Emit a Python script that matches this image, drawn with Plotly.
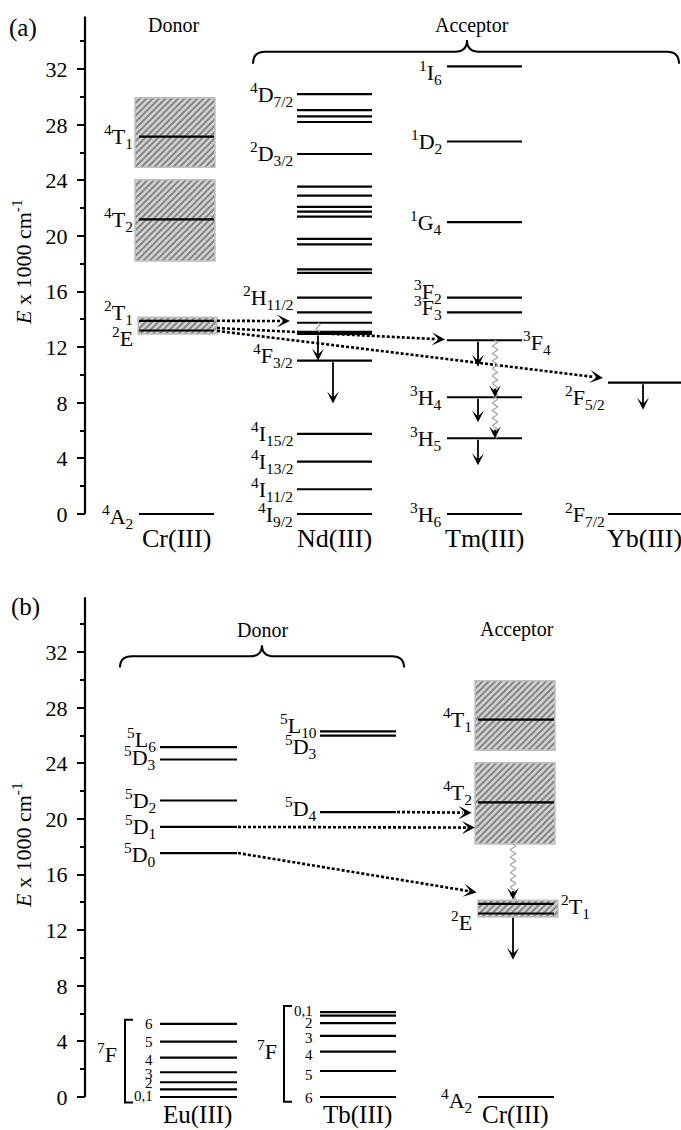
import math
import re
import plotly.graph_objects as go

FONT = "Liberation Serif"

# ---------------- energies, in units of 1000 cm^-1 ----------------
E_TICKS = [0, 4, 8, 12, 16, 20, 24, 28, 32]
E_MINOR = [2, 6, 10, 14, 18, 22, 26, 30, 34]

# Cr(III) sharp levels and broad (hatched) bands
CR_TERMS = ["4A2", "2E", "2T1", "4T2", "4T1"]
CR_E = [0.0, 13.2, 13.9, 21.2, 27.15]
CR_BANDS = ["2E/2T1", "4T2", "4T1"]
CR_BAND_LO = [12.95, 18.2, 24.95]
CR_BAND_HI = [14.15, 24.05, 29.95]

# Nd(III)
ND_E = [0.0, 1.78, 3.77, 5.76, 11.03, 12.95, 13.1, 13.76, 14.5, 15.56,
        17.35, 17.6, 19.4, 19.8, 21.4, 21.75, 22.1, 22.9, 23.55, 25.9,
        28.2, 28.6, 29.06, 30.2]
ND_TERMS = ["4I9/2", "4I11/2", "4I13/2", "4I15/2", "4F3/2", "2H11/2", "2D3/2", "4D7/2"]
ND_TERM_E = [0.0, 1.78, 3.77, 5.76, 11.03, 15.56, 25.9, 30.2]

# Tm(III)
TM_TERMS = ["3H6", "3H5", "3H4", "3F4", "3F3", "3F2", "1G4", "1D2", "1I6"]
TM_E = [0.0, 5.45, 8.4, 12.5, 14.5, 15.56, 21.0, 26.8, 32.2]

# Yb(III)
YB_TERMS = ["2F7/2", "2F5/2"]
YB_E = [0.0, 9.45]

# panel (a): Cr(III) -> Nd / Tm / Yb transfer (start energy, end energy)
A_TRANSFER_TARGET = ["Nd", "Tm", "Yb"]
A_TRANSFER_FROM = [13.9, 13.38, 13.17]
A_TRANSFER_TO = [13.88, 12.55, 9.78]

# radiative decays (start, end)
ND_DECAY_FROM = [12.95, 11.03]
ND_DECAY_TO = [11.03, 7.95]
TM_DECAY_FROM = [12.5, 8.4, 5.45]
TM_DECAY_TO = [10.6, 6.6, 3.5]
YB_DECAY_FROM = [9.45]
YB_DECAY_TO = [7.5]
# non-radiative relaxation (start, end)
TM_NONRAD_FROM = [12.5, 8.4]
TM_NONRAD_TO = [8.4, 5.45]
ND_NONRAD_FROM = [13.76]
ND_NONRAD_TO = [13.1]

# Eu(III)
EU_TERMS = ["5D0", "5D1", "5D2", "5D3", "5L6"]
EU_E = [17.55, 19.43, 21.33, 24.28, 25.17]
EU_7F_J = ["0", "1", "2", "3", "4", "5", "6"]
EU_7F_E = [0.0, 0.55, 1.06, 1.78, 2.83, 3.98, 5.26]

# Tb(III)
TB_TERMS = ["5D4", "5D3", "5L10"]
TB_E = [20.5, 26.0, 26.3]
TB_7F_J = ["6", "5", "4", "3", "2", "1", "0"]
TB_7F_E = [0.0, 1.87, 3.26, 4.4, 5.31, 5.86, 6.1]

# panel (b): Tb 5D4, Eu 5D1, Eu 5D0 -> Cr(III)
B_TRANSFER_DONOR = ["Tb", "Eu", "Eu"]
B_TRANSFER_FROM = [20.5, 19.43, 17.55]
B_TRANSFER_TO = [20.45, 19.38, 14.72]
CR_DECAY_FROM = [13.0]
CR_DECAY_TO = [9.87]
CR_NONRAD_FROM = [18.2]
CR_NONRAD_TO = [14.2]

# ---------------- page geometry ----------------
W, H = 681, 1130
AXIS_X = 85            # x of the energy axis
S = 13.9               # pixels per 1000 cm^-1
PANEL = {
    "a": dict(zero=514, lo=-3.3, hi=36.3, top=35.8),
    "b": dict(zero=1097, lo=-2.3, hi=36.4, top=35.95),
}
AX = {"a": ("x", "y"), "b": ("x2", "y2")}

# level columns (left, right) on the horizontal layout scale
COL_A = {"Cr": (139, 214), "Nd": (297, 372), "Tm": (447, 522), "Yb": (608, 681)}
COL_B = {"Eu": (160, 237), "Tb": (320, 396), "Cr": (478, 554)}
BOX_A = (135, 215)
BOX_B = (475, 555)
THIN_BOX_A = (138, 217)
THIN_BOX_B = (478, 558)

LABEL_SIZE = 22

fig = go.Figure()


def term_html(t):
    mult, letter, sub = re.match(r"(\d)([A-Z])(.*)", t).groups()
    s = f"<sup>{mult}</sup>{letter}"
    if sub:
        s += f"<sub>{sub}</sub>"
    return s


def levels(p, x0, x1, energies, width=2.2):
    xs, ys = [], []
    for e in energies:
        xs += [x0, x1, None]
        ys += [e, e, None]
    xa, ya = AX[p]
    fig.add_trace(go.Scatter(x=xs, y=ys, mode="lines", xaxis=xa, yaxis=ya,
                             line=dict(color="black", width=width),
                             hoverinfo="skip", showlegend=False))


def band(p, x0, x1, lo, hi):
    xa, ya = AX[p]
    fig.add_trace(go.Bar(
        x=[(x0 + x1) / 2], y=[hi - lo], base=[lo], width=[x1 - x0],
        xaxis=xa, yaxis=ya, hoverinfo="skip", showlegend=False,
        marker=dict(color="#d6d6d6", line=dict(color="#c0c0c0", width=1.5),
                    pattern=dict(shape="/", fgcolor="#262626", bgcolor="#d6d6d6",
                                 size=4.5, solidity=0.45))))


def label(p, x, e, text, anchor="right", size=LABEL_SIZE, dy=0):
    xa, ya = AX[p]
    fig.add_annotation(x=x, y=e, xref=xa, yref=ya, text=text, showarrow=False,
                       xanchor=anchor, yanchor="middle", yshift=dy,
                       font=dict(family=FONT, size=size, color="black"))


def head(p, x0, e0, x1, e1, width=1.8):
    xa, ya = AX[p]
    fig.add_annotation(x=x1, y=e1, ax=x0, ay=e0, xref=xa, yref=ya,
                       axref=xa, ayref=ya, text="", showarrow=True,
                       arrowhead=3, arrowsize=1.1, arrowwidth=width,
                       arrowcolor="black", standoff=0)


def dotted_arrow(p, x0, e0, x1, e1):
    dx, dy = x1 - x0, (e1 - e0) * S
    length = math.hypot(dx, dy)
    back = 9
    xb = x1 - dx / length * back
    eb = e1 - (e1 - e0) / length * back
    xa, ya = AX[p]
    fig.add_trace(go.Scatter(x=[x0, xb], y=[e0, eb], mode="lines", xaxis=xa, yaxis=ya,
                             line=dict(color="black", width=2.6, dash="3px,2px"),
                             hoverinfo="skip", showlegend=False))
    head(p, xb, eb, x1, e1, width=2)


def wavy(p, x, e0, e1, with_head=True, amp=2.6, wl=7.5):
    n = 160
    span = (e0 - e1) * S
    xs, ys = [], []
    for i in range(n + 1):
        t = i / n
        xs.append(x + amp * math.sin(2 * math.pi * t * span / wl))
        ys.append(e0 - t * (e0 - e1))
    xa, ya = AX[p]
    fig.add_trace(go.Scatter(x=xs, y=ys, mode="lines", xaxis=xa, yaxis=ya,
                             line=dict(color="#a8a8a8", width=1.3),
                             hoverinfo="skip", showlegend=False))
    if with_head:
        head(p, x, e1 + 10 / S, x, e1)


def brace(p, x0, x1, xm, y_end, y_bar, y_tip, r=12):
    xa, ya = AX[p]
    path = (f"M{x0},{y_end} Q{x0},{y_bar} {x0 + r},{y_bar} L{xm - r},{y_bar} "
            f"Q{xm},{y_bar} {xm},{y_tip} Q{xm},{y_bar} {xm + r},{y_bar} "
            f"L{x1 - r},{y_bar} Q{x1},{y_bar} {x1},{y_end}")
    fig.add_shape(type="path", path=path, xref=xa, yref=ya,
                  line=dict(color="black", width=2))


def bracket(p, x, top, bottom, tick=8):
    xa, ya = AX[p]
    path = f"M{x + tick},{top} L{x},{top} L{x},{bottom} L{x + tick},{bottom}"
    fig.add_shape(type="path", path=path, xref=xa, yref=ya,
                  line=dict(color="black", width=2))


crb = {n: (lo, hi) for n, lo, hi in zip(CR_BANDS, CR_BAND_LO, CR_BAND_HI)}

# ====================== panel (a) ======================
for name in ["4T1", "4T2"]:
    band("a", *BOX_A, *crb[name])
band("a", *THIN_BOX_A, *crb["2E/2T1"])
levels("a", *COL_A["Cr"], CR_E)
levels("a", *COL_A["Nd"], ND_E)
levels("a", *COL_A["Tm"], TM_E)
levels("a", *COL_A["Yb"], YB_E)

cr_shift = {"4A2": -2, "2E": -6, "2T1": 8, "4T2": 0, "4T1": 0}
for t, e in zip(CR_TERMS, CR_E):
    label("a", COL_A["Cr"][0] - 4, e, term_html(t), dy=cr_shift[t])

nd_shift = {"4F3/2": 5}
for t, e in zip(ND_TERMS, ND_TERM_E):
    label("a", COL_A["Nd"][0] - 2, e, term_html(t), dy=nd_shift.get(t, 0))

tm_shift = {"1I6": -6, "3F2": 6, "3F3": 5}
for t, e in zip(TM_TERMS, TM_E):
    if t == "3F4":
        label("a", COL_A["Tm"][1] - 1, e, term_html(t), anchor="left", dy=-2)
    else:
        label("a", COL_A["Tm"][0] - 3, e, term_html(t), dy=tm_shift.get(t, 0))

yb_shift = {"2F5/2": -15}
for t, e in zip(YB_TERMS, YB_E):
    label("a", COL_A["Yb"][0] - 1, e, term_html(t), dy=yb_shift.get(t, 0))

# energy transfer from the Cr(III) 2E/2T1 levels
target_x = {"Nd": 290, "Tm": 445, "Yb": 603}
for tgt, e0, e1 in zip(A_TRANSFER_TARGET, A_TRANSFER_FROM, A_TRANSFER_TO):
    dotted_arrow("a", THIN_BOX_A[1], e0, target_x[tgt], e1)

# emission / relaxation
for x, e0, e1 in zip([318, 333], ND_DECAY_FROM, ND_DECAY_TO):
    head("a", x, e0, x, e1)
for e0, e1 in zip(TM_DECAY_FROM, TM_DECAY_TO):
    head("a", 478, e0, 478, e1)
for e0, e1 in zip(YB_DECAY_FROM, YB_DECAY_TO):
    head("a", 643, e0, 643, e1)
for e0, e1 in zip(TM_NONRAD_FROM, TM_NONRAD_TO):
    wavy("a", 495, e0, e1)
for e0, e1 in zip(ND_NONRAD_FROM, ND_NONRAD_TO):
    wavy("a", 318, e0, e1, with_head=False, amp=2)

for ion, (x0, x1) in [("Cr", COL_A["Cr"]), ("Nd", COL_A["Nd"]), ("Tm", COL_A["Tm"]), ("Yb", COL_A["Yb"])]:
    label("a", (x0 + x1) / 2, -1.75, f"{ion}(III)", anchor="center", size=26)

label("a", 173, 35.15, "Donor", anchor="center", size=20)
label("a", 472, 35.15, "Acceptor", anchor="center", size=20)
brace("a", 253, 679, 467, 32.4, 33.26, 34.1)

# ====================== panel (b) ======================
for name in ["4T1", "4T2"]:
    band("b", *BOX_B, *crb[name])
band("b", *THIN_BOX_B, *crb["2E/2T1"])
levels("b", *COL_B["Eu"], EU_E + EU_7F_E)
levels("b", *COL_B["Tb"], TB_E + TB_7F_E)
levels("b", *COL_B["Cr"], CR_E)

eu_shift = {"5L6": 8, "5D3": 2, "5D0": -1}
for t, e in zip(EU_TERMS, EU_E):
    label("b", COL_B["Eu"][0] - 2, e, term_html(t), dy=eu_shift.get(t, 0))
tb_shift = {"5L10": 6, "5D3": -11, "5D4": 4}
for t, e in zip(TB_TERMS, TB_E):
    label("b", COL_B["Tb"][0] - 1, e, term_html(t), dy=tb_shift.get(t, 0))

crb_shift = {"4A2": -3, "2E": -7, "4T2": 10, "4T1": 0}
for t, e in zip(CR_TERMS, CR_E):
    if t == "2T1":
        label("b", THIN_BOX_B[1] + 1, e, term_html(t), anchor="left", dy=-3)
    else:
        label("b", COL_B["Cr"][0] - 4, e, term_html(t), dy=crb_shift[t])

# 7F manifolds: bracket, term symbol and J values
eu_j = dict(zip(EU_7F_J, EU_7F_E))
tb_j = dict(zip(TB_7F_J, TB_7F_E))
bracket("b", 125, eu_j["6"] + 0.3, eu_j["0"] - 0.4)
bracket("b", 284, tb_j["0"] + 0.45, tb_j["6"] - 0.35)
label("b", 119, (eu_j["0"] + eu_j["6"]) / 2 + 0.55, term_html("7F"))
label("b", 279, (tb_j["0"] + tb_j["6"]) / 2 + 0.35, term_html("7F"))
eu_j_shift = {"6": 0, "5": 0, "4": -2, "3": -2, "2": -1}
for j in ["6", "5", "4", "3", "2"]:
    label("b", 155, eu_j[j], j, size=15, dy=eu_j_shift[j])
label("b", 155, eu_j["0"], "0,1", size=15, dy=1)
tb_j_shift = {"2": 0, "3": -2, "4": -3, "5": -4, "6": -1}
for j in ["2", "3", "4", "5", "6"]:
    label("b", 315, tb_j[j], j, size=15, dy=tb_j_shift[j])
label("b", 315, tb_j["0"], "0,1", size=15, dy=1)

# energy transfer to Cr(III)
donor_end = {"Tb": COL_B["Tb"][1], "Eu": COL_B["Eu"][1]}
tips_x = [471.7, 475, 476.7]
for d, e0, e1, xt in zip(B_TRANSFER_DONOR, B_TRANSFER_FROM, B_TRANSFER_TO, tips_x):
    dotted_arrow("b", donor_end[d] + 1, e0, xt, e1)

for e0, e1 in zip(CR_NONRAD_FROM, CR_NONRAD_TO):
    wavy("b", 513, e0, e1)
for e0, e1 in zip(CR_DECAY_FROM, CR_DECAY_TO):
    head("b", 513, e0, 513, e1)

for ion, (x0, x1) in [("Eu", COL_B["Eu"]), ("Tb", COL_B["Tb"]), ("Cr", COL_B["Cr"])]:
    label("b", (x0 + x1) / 2 - 1, -1.3, f"{ion}(III)", anchor="center", size=25)

label("b", 262, 33.6, "Donor", anchor="center", size=20)
label("b", 517, 33.6, "Acceptor", anchor="center", size=20)
brace("b", 120, 404, 262, 30.9, 31.7, 32.5)

# ====================== axes ======================
for p in ["a", "b"]:
    xa, ya = AX[p]
    fig.add_shape(type="line", x0=AXIS_X, x1=AXIS_X, y0=0, y1=PANEL[p]["top"],
                  xref=xa, yref=ya, line=dict(color="black", width=2.2))


def ydomain(p):
    g = PANEL[p]
    return [(H - (g["zero"] - g["lo"] * S)) / H, (H - (g["zero"] - g["hi"] * S)) / H]


yax_common = dict(
    anchor="free", position=AXIS_X / W, tickmode="array", tickvals=E_TICKS,
    ticktext=[str(v) for v in E_TICKS], ticks="outside", ticklen=8, tickwidth=2,
    tickcolor="black", tickfont=dict(family=FONT, size=22, color="black"),
    showgrid=False, zeroline=False, showline=False, ticklabelstandoff=5,
    minor=dict(tickmode="array", tickvals=E_MINOR, ticks="outside", ticklen=5,
               tickwidth=2, tickcolor="black", showgrid=False),
)
xax_common = dict(range=[0, W], domain=[0, 1], visible=False, showgrid=False, zeroline=False)

fig.update_layout(
    width=W, height=H, margin=dict(l=0, r=0, t=0, b=0),
    font=dict(family=FONT, color="black"),
    paper_bgcolor="white", plot_bgcolor="white", barmode="overlay", showlegend=False,
    xaxis=dict(xax_common, anchor="y"),
    xaxis2=dict(xax_common, anchor="y2"),
    yaxis=dict(yax_common, domain=ydomain("a"), range=[PANEL["a"]["lo"], PANEL["a"]["hi"]]),
    yaxis2=dict(yax_common, domain=ydomain("b"), range=[PANEL["b"]["lo"], PANEL["b"]["hi"]]),
)

# panel letters and energy-axis titles
for txt, x, y in [("(a)", 23, 28), ("(b)", 25, 607)]:
    fig.add_annotation(x=x / W, y=(H - y) / H, xref="paper", yref="paper", text=txt,
                       xanchor="center", yanchor="middle", showarrow=False,
                       font=dict(family=FONT, size=25, color="black"))
for y in [262, 845]:
    fig.add_annotation(x=22 / W, y=(H - y) / H, xref="paper", yref="paper",
                       text="<i>E</i> x 1000 cm<sup>-1</sup>", textangle=-90,
                       xanchor="center", yanchor="middle", showarrow=False,
                       font=dict(family=FONT, size=22, color="black"))

fig.write_html("out.html")
